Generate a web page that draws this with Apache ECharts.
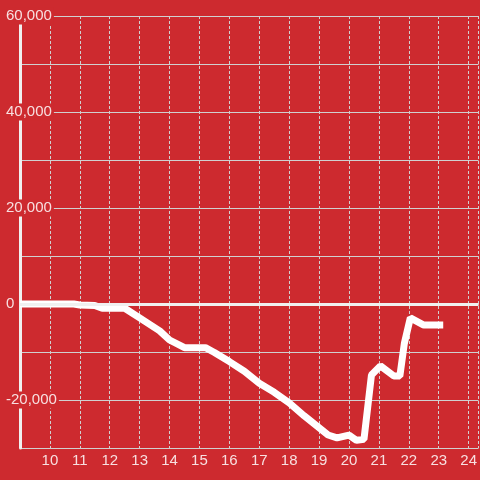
<!DOCTYPE html>
<html>
<head>
<meta charset="utf-8">
<script src="https://cdn.jsdelivr.net/npm/echarts@6/dist/echarts.min.js"></script>
<style>
  html, body { margin: 0; padding: 0; background: #cd2a2f; }
  #chart { width: 480px; height: 480px; }
</style>
</head>
<body>
<div id="chart"></div>
<script>
// hour of day
const hours = [9.0, 10.8, 11.0, 11.5, 11.75, 12.5, 13.0, 13.67, 14.0, 14.5, 15.2, 15.5,
  16.0, 16.5, 17.0, 17.5, 18.0, 18.5, 19.0, 19.3, 19.6, 20.0, 20.25, 20.5, 20.75,
  21.05, 21.5, 21.7, 21.85, 22.05, 22.5, 23.15];
const values = [0, 0, -200, -300, -900, -900, -2900, -5600, -7500, -9100, -9100, -10100,
  -12000, -14000, -16500, -18400, -20600, -23300, -25800, -27300, -27900, -27300, -28400, -28200, -14800,
  -12900, -15000, -15000, -8200, -2900, -4400, -4400];
const yTicks = [60000, 40000, 20000, 0, -20000];

const red = "#cd2a2f";
const textColor = "rgba(255,255,255,0.85)";

var chart = echarts.init(document.getElementById("chart"));
const option = {
  backgroundColor: red,
  animation: false,
  grid: { left: 20, right: 0, top: 16, bottom: 32 },
  xAxis: {
    type: "value",
    min: 9,
    max: 24.33,
    interval: 1,
    axisLine: { show: false },
    axisTick: { show: false },
    axisLabel: {
      color: textColor,
      fontSize: 15,
      fontFamily: "Liberation Sans, Arial, sans-serif",
      margin: 5,
      showMinLabel: false,
      showMaxLabel: false,
    },
    splitLine: {
      show: true,
      lineStyle: { color: "#d0d0d0", width: 1, type: [3, 2] },
    },
  },
  yAxis: {
    type: "value",
    min: -30000,
    max: 60000,
    interval: 10000,
    axisLine: { show: true, lineStyle: { color: "#f0f0f0", width: 3 } },
    axisTick: { show: false },
    axisLabel: {
      color: textColor,
      fontSize: 15,
      fontFamily: "Liberation Sans, Arial, sans-serif",
      align: "left",
      margin: 14,
      backgroundColor: red,
      padding: [1, 2, 1, 0],
      formatter: (v) => (yTicks.indexOf(v) >= 0 ? v.toLocaleString("en-US") : ""),
    },
    splitLine: {
      show: true,
      lineStyle: { color: "#d0d0d0", width: 1 },
    },
  },
  series: [
    {
      type: "line",
      data: hours.map((h, i) => [h, values[i]]),
      showSymbol: false,
      lineStyle: { color: "#ffffff", width: 7 },
      markLine: {
        silent: true,
        symbol: "none",
        label: { show: false },
        lineStyle: { color: "#f0f0f0", width: 3, type: "solid" },
        data: [{ yAxis: 0 }],
      },
    },
  ],
};
chart.setOption(option);
</script>
</body>
</html>
